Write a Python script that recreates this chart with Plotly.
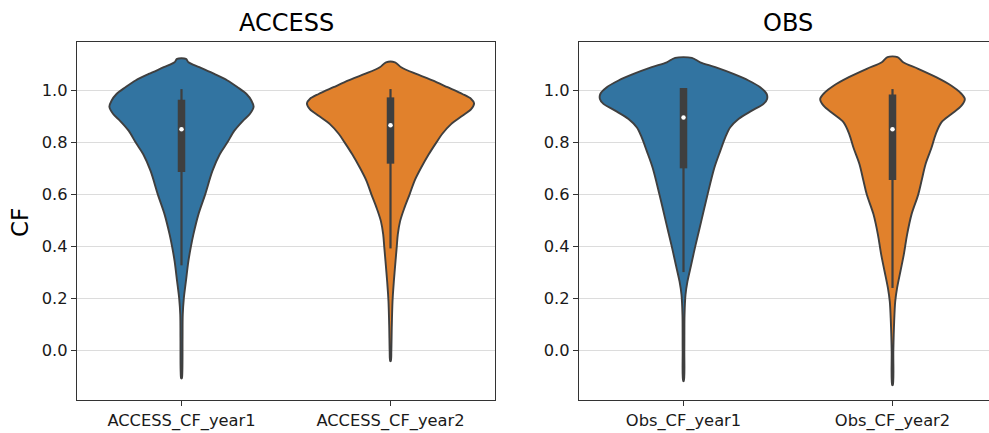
import plotly.graph_objects as go

# ---------------- data ----------------
access_categories = ["ACCESS_CF_year1", "ACCESS_CF_year2"]
obs_categories = ["Obs_CF_year1", "Obs_CF_year2"]

# violin outlines: y levels and half-widths (category units)
acc1_y = [1.122, 1.109, 1.090, 1.064, 1.039, 1.013, 0.987, 0.961, 0.938, 0.910, 0.884, 0.846, 0.800, 0.755, 0.691, 0.600, 0.524, 0.447, 0.400, 0.344, 0.266, 0.200, 0.138, 0.050, -0.080, -0.107]
acc1_w = [0.0215, 0.0335, 0.085, 0.157, 0.220, 0.268, 0.311, 0.335, 0.345, 0.327, 0.294, 0.253, 0.219, 0.183, 0.148, 0.113, 0.081, 0.057, 0.045, 0.033, 0.021, 0.011, 0.006, 0.005, 0.004, 0.0015]

acc2_y = [1.109, 1.090, 1.064, 1.039, 1.013, 0.987, 0.968, 0.951, 0.929, 0.903, 0.871, 0.833, 0.800, 0.755, 0.704, 0.653, 0.600, 0.550, 0.498, 0.447, 0.400, 0.344, 0.266, 0.189, 0.086, 0.000, -0.040]
acc2_w = [0.0215, 0.051, 0.123, 0.201, 0.273, 0.344, 0.386, 0.400, 0.386, 0.344, 0.290, 0.247, 0.219, 0.183, 0.147, 0.115, 0.091, 0.067, 0.046, 0.035, 0.030, 0.024, 0.016, 0.0096, 0.006, 0.004, 0.0015]

obs1_y = [1.126, 1.109, 1.090, 1.064, 1.039, 1.013, 0.987, 0.968, 0.949, 0.923, 0.891, 0.858, 0.820, 0.768, 0.704, 0.600, 0.498, 0.400, 0.331, 0.266, 0.215, 0.138, 0.000, -0.117]
obs1_w = [0.040, 0.080, 0.152, 0.239, 0.311, 0.367, 0.398, 0.400, 0.383, 0.327, 0.263, 0.223, 0.200, 0.176, 0.148, 0.115, 0.085, 0.056, 0.037, 0.019, 0.0096, 0.005, 0.004, 0.0015]

obs2_y = [1.129, 1.109, 1.084, 1.051, 1.019, 0.994, 0.968, 0.942, 0.910, 0.878, 0.833, 0.781, 0.717, 0.653, 0.600, 0.524, 0.447, 0.369, 0.305, 0.241, 0.189, 0.112, 0.000, -0.133]
obs2_w = [0.024, 0.051, 0.123, 0.211, 0.282, 0.322, 0.346, 0.330, 0.282, 0.234, 0.207, 0.187, 0.158, 0.139, 0.123, 0.091, 0.070, 0.054, 0.038, 0.022, 0.013, 0.008, 0.004, 0.0015]

# inner box statistics: [whisker low, q1, median, q3, whisker high]
acc1_box = [0.328, 0.687, 0.851, 0.965, 1.006]
acc2_box = [0.393, 0.719, 0.867, 0.974, 1.006]
obs1_box = [0.302, 0.701, 0.897, 1.010, 1.010]
obs2_box = [0.241, 0.656, 0.851, 0.985, 1.006]

y_ticks = [0.0, 0.2, 0.4, 0.6, 0.8, 1.0]
y_tick_labels = ["0.0", "0.2", "0.4", "0.6", "0.8", "1.0"]

# ---------------- styling ----------------
BLUE = "#3274a1"
ORANGE = "#e1812c"
EDGE = "#3f3f3f"
FONT = "DejaVu Sans"
W, H = 989, 433
ML, MR, MT, MB = 77, 0, 42, 33
plot_w = W - ML - MR
px_per_unit = 209.0

fig = go.Figure()


def add_violin(pos, ys, ws, box, color, xa, ya):
    xs = [pos + w for w in ws] + [pos - w for w in reversed(ws)]
    yy = list(ys) + list(reversed(ys))
    xs.append(xs[0])
    yy.append(yy[0])
    fig.add_trace(go.Scatter(x=xs, y=yy, mode="lines", fill="toself",
                             fillcolor=color,
                             line=dict(color=EDGE, width=1.9, shape="spline", smoothing=0.9),
                             xaxis=xa, yaxis=ya, hoverinfo="skip", showlegend=False))
    wlo, q1, med, q3, whi = box
    fig.add_trace(go.Scatter(x=[pos, pos], y=[wlo, whi], mode="lines",
                             line=dict(color=EDGE, width=2.2),
                             xaxis=xa, yaxis=ya, hoverinfo="skip", showlegend=False))
    fig.add_trace(go.Scatter(x=[pos, pos], y=[q1, q3], mode="lines",
                             line=dict(color=EDGE, width=7.5),
                             xaxis=xa, yaxis=ya, hoverinfo="skip", showlegend=False))
    fig.add_trace(go.Scatter(x=[pos], y=[med], mode="markers",
                             marker=dict(color="white", size=4.5, line=dict(width=0)),
                             xaxis=xa, yaxis=ya, hoverinfo="skip", showlegend=False))


add_violin(0, acc1_y, acc1_w, acc1_box, BLUE, "x", "y")
add_violin(1, acc2_y, acc2_w, acc2_box, ORANGE, "x", "y")
add_violin(0, obs1_y, obs1_w, obs1_box, BLUE, "x2", "y2")
add_violin(1, obs2_y, obs2_w, obs2_box, ORANGE, "x2", "y2")

# panel geometry (pixels)
left_l, left_r = 77, 495
right_l = 579
right_full_r = right_l + 2 * px_per_unit  # panel extends past picture edge

d1 = [(left_l - ML) / plot_w, (left_r - ML) / plot_w]
d2 = [(right_l - ML) / plot_w, 1.0]
x2_max = -0.5 + (W - MR - right_l) / px_per_unit

yrange = [-0.19, 1.187]

axis_common = dict(showgrid=False, zeroline=False, showline=True, linecolor="#333333",
                   linewidth=1.2, ticks="outside", ticklen=5, tickcolor="#333333",
                   tickfont=dict(family=FONT, size=16.3, color="#1a1a1a"))

yaxis_common = dict(axis_common, showgrid=True, gridcolor="#dcdcdc", gridwidth=1,
                    tickvals=y_ticks, ticktext=y_tick_labels, range=yrange)

fig.update_layout(
    width=W, height=H,
    margin=dict(l=ML, r=MR, t=MT, b=MB),
    paper_bgcolor="white", plot_bgcolor="white",
    xaxis=dict(axis_common, domain=d1, range=[-0.5, 1.5], mirror=True,
               tickvals=[0, 1], ticktext=access_categories, anchor="y"),
    yaxis=dict(yaxis_common, mirror=True, anchor="x"),
    xaxis2=dict(axis_common, domain=d2, range=[-0.5, x2_max], mirror=True,
                tickvals=[0, 1], ticktext=obs_categories, anchor="y2"),
    yaxis2=dict(yaxis_common, mirror=False, anchor="x2"),
)

titles = [("ACCESS", (left_l + left_r) / 2), ("OBS", (right_l + right_full_r) / 2)]
for txt, cx in titles:
    fig.add_annotation(text=txt, x=(cx - ML) / plot_w, y=1, xref="paper", yref="paper",
                       xanchor="center", yanchor="bottom", yshift=3, showarrow=False,
                       font=dict(family=FONT, size=24, color="#000000"))

fig.add_annotation(text="CF", x=(20 - ML) / plot_w, y=(H - MB - 223) / (H - MT - MB),
                   xref="paper", yref="paper", xanchor="center", yanchor="middle",
                   textangle=-90, showarrow=False,
                   font=dict(family=FONT, size=23, color="#000000"))

fig.write_html("out.html", config={"displayModeBar": False},
               post_script="document.body.style.margin='0';document.body.style.overflow='hidden';")
